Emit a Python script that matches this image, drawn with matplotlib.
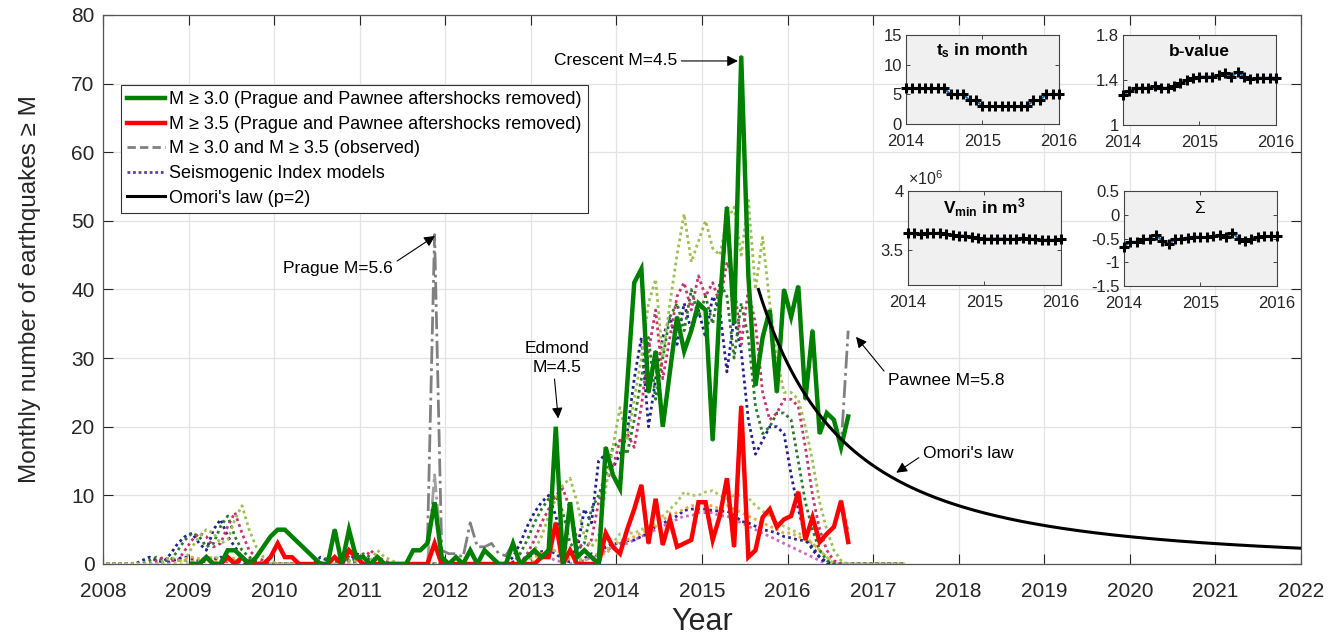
import numpy as np
import matplotlib
matplotlib.use('Agg')
import matplotlib.pyplot as plt
from matplotlib.lines import Line2D

plt.rcParams['font.family'] = ['Liberation Sans', 'DejaVu Sans']
plt.rcParams['mathtext.fontset'] = 'custom'
plt.rcParams['mathtext.rm'] = 'Liberation Sans'
plt.rcParams['mathtext.bf'] = 'Liberation Sans:bold'
plt.rcParams['mathtext.it'] = 'Liberation Sans:italic'

# ---- monthly counts, Jan 2009 .. Sep 2016 (declustered catalogue) ----
m30_declustered = [
    0, 0, 1, 0, 0, 2, 2, 1, 0, 1, 2.5, 4,          # 2009
    5, 5, 4, 3, 2, 1, 0, 0, 5, 0, 5, 1,            # 2010
    1, 0, 1, 0, 0, 0, 0, 2, 2, 3, 9, 1,            # 2011
    0, 1, 0, 2, 0, 2, 1, 0, 0, 3, 0, 1,            # 2012
    2, 1, 2, 20, 0, 9, 1, 2, 1, 0, 17, 13,         # 2013
    11, 26, 41, 43, 25, 31, 20, 28, 36, 31, 34, 38,  # 2014
    37, 18, 38, 52, 35, 74, 42, 26, 33, 37, 25, 40,  # 2015
    36, 40.5, 24, 34, 19, 22, 21, 17, 21.5,          # 2016
]
m35_declustered = [
    0, 0, 1, 0, 0, 1, 0, 1, 0, 0, 0, 1,
    3, 1, 1, 0, 0, 0, 0, 0, 1, 0, 2, 1,
    0, 0, 0, 0, 0, 0, 0, 0, 0, 0, 3, 0,
    0, 0, 0, 0, 0, 0, 0, 0, 0, 0, 0, 0,
    0, 1, 1, 6, 0, 2, 0, 0, 0, 0, 4.5, 2.5,
    1.5, 5, 8, 11.5, 3, 9.5, 2.8, 6.5, 2.5, 3, 3.5, 9,
    9, 3.5, 7, 12.5, 2.5, 23, 1, 2, 6.8, 8, 5.4, 6.5,
    7, 10.5, 3.5, 6.8, 3.2, 4.4, 5.4, 9.2, 3.2,
]
# months where the observed catalogue differs (Prague / Pawnee aftershocks kept)
m30_observed_diff = {34: 48, 35: 2, 36: 1.5, 37: 1.5, 38: 1, 39: 6, 40: 2.5,
                     41: 2.5, 42: 3, 43: 1.5, 44: 1.2, 87: 34.5, 92: 34}
m35_observed_diff = {34: 13, 35: 1, 92: 5}

# ---- seismogenic index model realisations, Jan 2008 .. May 2017 ----
si30_navy = [
    0, 0, 0, 0, 0, 0.5, 1, 0.5, 0.3, 1.5, 3, 4,
    4.5, 3, 2, 5, 6.5, 4, 2.5, 1, 0.5, 0.3, 0, 0,
    0, 0, 0, 0, 0, 0, 1, 0.5, 0.3, 0.8, 0.5, 1.5,
    1.2, 0.5, 0.3, 0, 0, 0, 0, 0, 0, 0, 0, 0,
    0, 0, 0, 0, 0, 0, 0, 0, 0, 1, 3, 5.5,
    7.5, 9, 10, 7, 3, 1.5, 2, 8, 6, 15, 16, 14,
    16, 19, 27, 33, 20, 27, 33, 36, 32, 38, 34, 37,
    33, 39, 37, 28, 36, 31, 21, 16, 18, 20, 20, 19,
    13, 8, 4, 2, 1, 0.3, 0, 0, 0, 0, 0, 0,
    0, 0, 0, 0, 0,
]
si30_green = [
    0, 0, 0, 0, 0, 0, 0.5, 1, 0.5, 0.5, 2, 3.5,
    4.5, 4, 2.5, 3, 5.5, 7, 4, 2, 1, 0.5, 0, 0,
    0, 0, 0, 0, 0, 0, 0, 1, 0.5, 0.5, 1, 0.5,
    1.5, 1, 0.5, 0, 0, 0, 0, 0, 0, 0, 0, 0,
    0, 0, 0, 0, 0, 0, 0, 0, 0, 0, 1.5, 3.5,
    6, 8, 9.5, 10, 7.5, 3, 2, 3, 8, 10, 13, 17,
    18, 16, 21, 27, 33, 24, 30, 36, 38, 34, 40, 36,
    39, 35, 41, 39, 30, 38, 33, 23, 19, 20, 22, 22,
    21, 15, 9, 5, 2, 0.5, 0, 0, 0, 0, 0, 0,
    0, 0, 0, 0, 0,
]
si30_crimson = [
    0, 0, 0, 0, 0, 0, 0, 0.5, 1, 0.5, 0.5, 2,
    3.5, 4.5, 4, 2.5, 3, 5.5, 7.5, 4.5, 2, 1, 0.5, 0,
    0, 0, 0, 0, 0, 0, 0, 0, 1, 0.5, 0.5, 1,
    0.5, 2, 1, 0.5, 0, 0, 0, 0, 0, 0, 0, 0,
    0, 0, 0, 0, 0, 0, 0, 0, 0, 0, 0, 1.5,
    3.5, 6, 8, 10, 11, 8, 3.5, 2, 3.5, 9, 12, 14,
    18, 19, 17, 23, 31, 37, 27, 33, 39, 41, 37, 42,
    39, 41, 38, 44, 41, 32, 40, 35, 25, 21, 22, 24,
    24, 23, 17, 10, 5, 2, 0.5, 0, 0, 0, 0, 0,
    0, 0, 0, 0, 0,
]
si30_olive = [
    0, 0, 0, 0, 0, 0, 0, 0, 0.5, 1, 0.5, 0.5,
    2.5, 4, 5, 4.5, 3, 3.5, 6.5, 8.5, 5, 2.5, 1, 0.5,
    0, 0, 0, 0, 0, 0, 0, 0, 0, 1, 0.5, 0.5,
    1, 0.5, 2, 1, 0.5, 0, 0, 0, 0, 0, 0, 0,
    0, 0, 0, 0, 0, 0, 0, 0, 0, 0, 0, 0,
    2, 4, 7, 9.5, 11.5, 12.5, 9, 4, 2.5, 4, 11, 17,
    22.8, 18, 24, 30, 38, 41.5, 30, 38, 45, 51, 44, 47,
    50, 46, 45, 50, 52, 45, 53, 40, 47.6, 38, 30, 25,
    25, 24, 20, 15, 9, 5, 2, 0.5, 0, 0, 0, 0,
    0, 0, 0, 0, 0,
]
si35_navy = [
    0, 0, 0, 0, 0, 0, 0, 0, 0, 0.3, 0.8, 1,
    0.8, 0.5, 0.3, 0.5, 1, 0.8, 0.5, 0.3, 0, 0, 0, 0,
    0, 0, 0, 0, 0, 0, 0, 0, 0, 0, 0, 0.3,
    0.3, 0, 0, 0, 0, 0, 0, 0, 0, 0, 0, 0,
    0, 0, 0, 0, 0, 0, 0, 0, 0, 0.3, 0.6, 1,
    1.5, 1.8, 2, 1.5, 0.6, 0.3, 0.3, 0.8, 1.5, 1.2, 2.5, 3,
    3, 3.4, 3.5, 4, 4.5, 5.5, 5.9, 6.5, 7, 7.8, 8, 8,
    8, 7.8, 7.7, 7.7, 7.2, 6.2, 6, 5.5, 5, 4.8, 4.5, 4,
    3.8, 3.5, 3.4, 2.5, 1, 0, 0, 0, 0, 0, 0, 0,
    0, 0, 0, 0, 0,
]
si35_orange = [
    0, 0, 0, 0, 0, 0, 0, 0, 0, 0, 0.3, 0.8,
    1, 0.8, 0.5, 0.3, 0.5, 1, 0.8, 0.5, 0.3, 0, 0, 0,
    0, 0, 0, 0, 0, 0, 0, 0, 0, 0, 0, 0,
    0, 0.3, 0, 0, 0, 0, 0, 0, 0, 0, 0, 0,
    0, 0, 0, 0, 0, 0, 0, 0, 0, 0, 0.3, 0.6,
    1, 1.5, 2, 2, 1.5, 0.6, 0.3, 0.5, 1, 1.5, 1.5, 2.5,
    3.5, 3.5, 4, 4.5, 5, 5.5, 6.5, 7, 7.5, 8, 8.5, 8.5,
    8.5, 8.5, 8, 8.5, 8, 7.5, 7, 6.5, 6, 5.5, 5, 4.5,
    4.5, 4, 3.5, 3, 2, 1, 0.3, 0, 0, 0, 0, 0,
    0, 0, 0, 0, 0,
]
si35_violet = [
    0, 0, 0, 0, 0, 0, 0, 0, 0, 0.5, 0.8, 0.5,
    0.5, 0.3, 0.8, 1, 0.5, 0.3, 0.3, 0, 0, 0, 0, 0,
    0, 0, 0, 0, 0, 0, 0, 0, 0, 0, 0, 0,
    0, 0, 0, 0, 0, 0, 0, 0, 0, 0, 0, 0,
    0, 0, 0, 0, 0, 0, 0, 0, 0, 0, 0.5, 1,
    1.2, 1.5, 1, 0.5, 0.3, 0, 0.3, 0.5, 1, 1, 2, 2.5,
    3, 3, 3.5, 4, 4.5, 5, 5.5, 6, 6.5, 7, 7, 7.5,
    7.5, 7.5, 7, 7, 6.5, 6, 5.5, 5, 4.5, 4, 3.5, 3,
    2.5, 2, 1.5, 1, 0.5, 0, 0, 0, 0, 0, 0, 0,
    0, 0, 0, 0, 0,
]
si35_olive = [
    0, 0, 0, 0, 0, 0, 0, 0, 0, 0, 0, 0,
    0.3, 0.5, 0.8, 1, 0.8, 0.5, 0.5, 0.8, 0.5, 0.3, 0, 0,
    0, 0, 0, 0, 0, 0, 0, 0, 0, 0, 0, 0,
    0, 0, 0, 0, 0, 0, 0, 0, 0, 0, 0, 0,
    0, 0, 0, 0, 0, 0, 0, 0, 0, 0, 0, 0,
    0.5, 1, 1.5, 2, 2.5, 2, 1, 0.5, 1, 1.5, 2, 3,
    4.4, 4.5, 4.5, 5, 5.5, 6, 7, 8, 9, 10.5, 10, 10,
    10.5, 10.7, 10, 9.5, 10, 10, 9.6, 8.5, 7.7, 7, 6, 5.5,
    5, 4.5, 4, 3, 2, 1, 0, 0, 0, 0, 0, 0,
    0, 0, 0, 0, 0,
]

# ---- Omori's law (p = 2) after the 2015 peak ----
omori_start, omori_end = 2015.66, 2022.0
omori_n0, omori_c, omori_p = 40.0, 2.0, 2

# ---- inset series: monthly parameters, Jan 2014 .. Jan 2016 ----
ts_month = [6, 6, 6, 6, 6, 6, 6, 5, 5, 5, 4, 4, 3, 3, 3, 3, 3, 3, 3, 3, 4, 4, 5, 5, 5]
b_value = [1.27, 1.30, 1.33, 1.33, 1.33, 1.35, 1.33, 1.33, 1.35, 1.37, 1.40, 1.42, 1.43,
           1.43, 1.43, 1.44, 1.46, 1.43, 1.47, 1.43, 1.41, 1.42, 1.42, 1.42, 1.42]
vmin_1e6 = [3.645, 3.64, 3.63, 3.64, 3.64, 3.645, 3.635, 3.625, 3.62, 3.62, 3.61, 3.60, 3.595,
            3.595, 3.595, 3.595, 3.59, 3.595, 3.60, 3.595, 3.59, 3.585, 3.585, 3.585, 3.59]
sigma = [-0.67, -0.57, -0.57, -0.52, -0.50, -0.42, -0.55, -0.62, -0.52, -0.50, -0.48, -0.46, -0.47,
         -0.47, -0.45, -0.42, -0.47, -0.38, -0.50, -0.55, -0.50, -0.47, -0.45, -0.45, -0.45]

# ---------------------------------------------------------------------
t_obs = 2009 + (np.arange(len(m30_declustered)) + 0.5) / 12
t_si = 2008 + (np.arange(len(si30_navy)) + 0.5) / 12
t_inset = 2014 + np.arange(len(ts_month)) / 12

m30_observed = list(m30_declustered)
for k, v in m30_observed_diff.items():
    m30_observed[k] = v
m35_observed = list(m35_declustered)
for k, v in m35_observed_diff.items():
    m35_observed[k] = v

t_omori = np.linspace(omori_start, omori_end, 300)
n_omori = omori_n0 / (1 + (t_omori - omori_start) / omori_c) ** omori_p

fig = plt.figure(figsize=(13.37, 6.37), dpi=100)
ax = fig.add_axes([0.077, 0.1146, 0.8961, 0.8619])

tick_col = '#262626'
gray = '#808080'

ax.plot(t_obs, m30_observed, color=gray, lw=2, ls='-.', zorder=2)
ax.plot(t_obs, m35_observed, color='#a0a0a0', lw=2, ls='-.', zorder=2)

si_models = [
    (si35_violet, '#cc66c8'), (si35_navy, '#2a2a9a'), (si35_orange, '#f2a83a'),
    (si30_navy, '#22228c'), (si30_green, '#2a7a2a'), (si30_crimson, '#c8336e'),
    (si30_olive, '#9bc04f'), (si35_olive, '#a8c860'),
]
for vals, col in si_models:
    ax.plot(t_si, vals, color=col, lw=2, ls=(0, (1, 1.2)), zorder=3)

ax.plot(t_obs, m35_declustered, color='#ff0000', lw=3.2, zorder=4, solid_joinstyle='miter')
ax.plot(t_obs, m30_declustered, color='#008000', lw=3.2, zorder=5, solid_joinstyle='miter')
ax.plot(t_omori, n_omori, color='black', lw=2.2, zorder=6)

ax.set_xlim(2008, 2022)
ax.set_ylim(0, 80)
ax.set_xticks(range(2008, 2023))
ax.set_yticks(range(0, 81, 10))
ax.grid(True, color='#e3e3e3', lw=0.9)
ax.set_axisbelow(True)
ax.tick_params(direction='in', length=7, width=0.8, labelsize=15, colors=tick_col,
               top=True, right=True)
ax.tick_params(axis='x', pad=13)
ax.tick_params(axis='y', pad=6)
for s in ax.spines.values():
    s.set_color('#555555')
    s.set_linewidth(0.9)
ax.set_xlabel('Year', fontsize=22, color=tick_col, labelpad=4)
ax.set_ylabel('Monthly number of earthquakes \u2265 M', fontsize=17.5, color=tick_col, labelpad=22)

# annotations
arw = dict(arrowstyle='-|>', color='black', lw=0.8, mutation_scale=16, shrinkA=1, shrinkB=0)
ann_fs = 12.5
ax.annotate('Crescent M=4.5', xy=(2015.42, 73.3), xytext=(2014.71, 73.3),
            ha='right', va='center', fontsize=ann_fs, arrowprops=dict(arw, relpos=(1, 0.5)))
ax.annotate('Prague M=5.6', xy=(2011.88, 47.8), xytext=(2010.75, 43.0),
            ha='center', va='center', fontsize=ann_fs, arrowprops=dict(arw, relpos=(1, 0.85)))
ax.annotate('Edmond\nM=4.5', xy=(2013.32, 21.2), xytext=(2013.31, 30.0),
            ha='center', va='center', fontsize=ann_fs, linespacing=1.3,
            arrowprops=dict(arw, relpos=(0.45, 0)))
ax.annotate('Pawnee M=5.8', xy=(2016.80, 33.1), xytext=(2017.17, 26.7),
            ha='left', va='center', fontsize=ann_fs, arrowprops=dict(arw, relpos=(0, 0.85)))
ax.annotate("Omori's law", xy=(2017.27, 13.3), xytext=(2017.58, 16.1),
            ha='left', va='center', fontsize=ann_fs, arrowprops=dict(arw, relpos=(0, 0.4)))

handles = [
    Line2D([], [], color='#008000', lw=3.2),
    Line2D([], [], color='#ff0000', lw=3.2),
    Line2D([], [], color=gray, lw=2, ls='--', dashes=(3, 1.5)),
    Line2D([], [], color='#5a3fb5', lw=2, ls=(0, (1, 1))),
    Line2D([], [], color='black', lw=2.2),
]
labels = [
    'M \u2265 3.0 (Prague and Pawnee aftershocks removed)',
    'M \u2265 3.5 (Prague and Pawnee aftershocks removed)',
    'M \u2265 3.0 and M \u2265 3.5 (observed)',
    'Seismogenic Index models',
    "Omori's law (p=2)",
]
leg = ax.legend(handles, labels, loc='upper left', bbox_to_anchor=(0.0905, 0.8666),
                bbox_transform=fig.transFigure, fontsize=13, frameon=True, fancybox=False,
                handlelength=2.1, handletextpad=0.2, labelspacing=0.42, borderpad=0.35,
                borderaxespad=0, framealpha=1)
leg.get_frame().set_edgecolor('#333333')
leg.get_frame().set_linewidth(0.8)
leg.set_zorder(10)


def inset(rect, y, ylim, yticks, yticklabels, title, title_kw=None):
    a = fig.add_axes(rect)
    a.set_facecolor('#f0f0f0')
    a.plot(t_inset, y, color='#0072bd', lw=1.5, marker='+', ms=6.5, mew=2.2,
           mec='black', mfc='black', clip_on=False, zorder=5)
    a.set_xlim(2014, 2016)
    a.set_ylim(*ylim)
    a.set_xticks([2014, 2015, 2016])
    a.set_yticks(yticks)
    a.set_yticklabels(yticklabels)
    a.tick_params(direction='in', length=3, width=0.6, labelsize=12, colors=tick_col,
                  top=True, right=True, pad=3)
    a.tick_params(axis='x', pad=7)
    for s in a.spines.values():
        s.set_color('#444444')
        s.set_linewidth(0.8)
    kw = dict(fontsize=12.5, fontweight='bold')
    if title_kw:
        kw.update(title_kw)
    a.text(0.5, 0.82, title, transform=a.transAxes, ha='center', va='center', **kw)
    return a


inset([0.6776, 0.8053, 0.1144, 0.1397], ts_month, (0, 15), [0, 5, 10, 15],
      ['0', '5', '10', '15'], r'$\mathbf{t}_{\mathbf{s}}$ in month')
inset([0.8399, 0.8038, 0.1144, 0.1413], b_value, (1, 1.8), [1, 1.4, 1.8],
      ['1', '1.4', '1.8'], 'b-value')
av = inset([0.6791, 0.5526, 0.1144, 0.1476], vmin_1e6, (3.2, 4.0), [3.5, 4.0],
           ['3.5', '4'], r'$\mathbf{V}_{\mathbf{min}}$ in m$^{\mathbf{3}}$')
av.text(0.0, 1.03, r'$\times 10^{6}$', transform=av.transAxes, ha='left', va='bottom',
        fontsize=11.5, color=tick_col)
inset([0.8407, 0.551, 0.1144, 0.1491], sigma, (-1.5, 0.5), [-1.5, -1, -0.5, 0, 0.5],
      ['-1.5', '-1', '-0.5', '0', '0.5'], r'$\Sigma$', title_kw=dict(fontweight='normal'))

fig.savefig('out.png', dpi=100)
